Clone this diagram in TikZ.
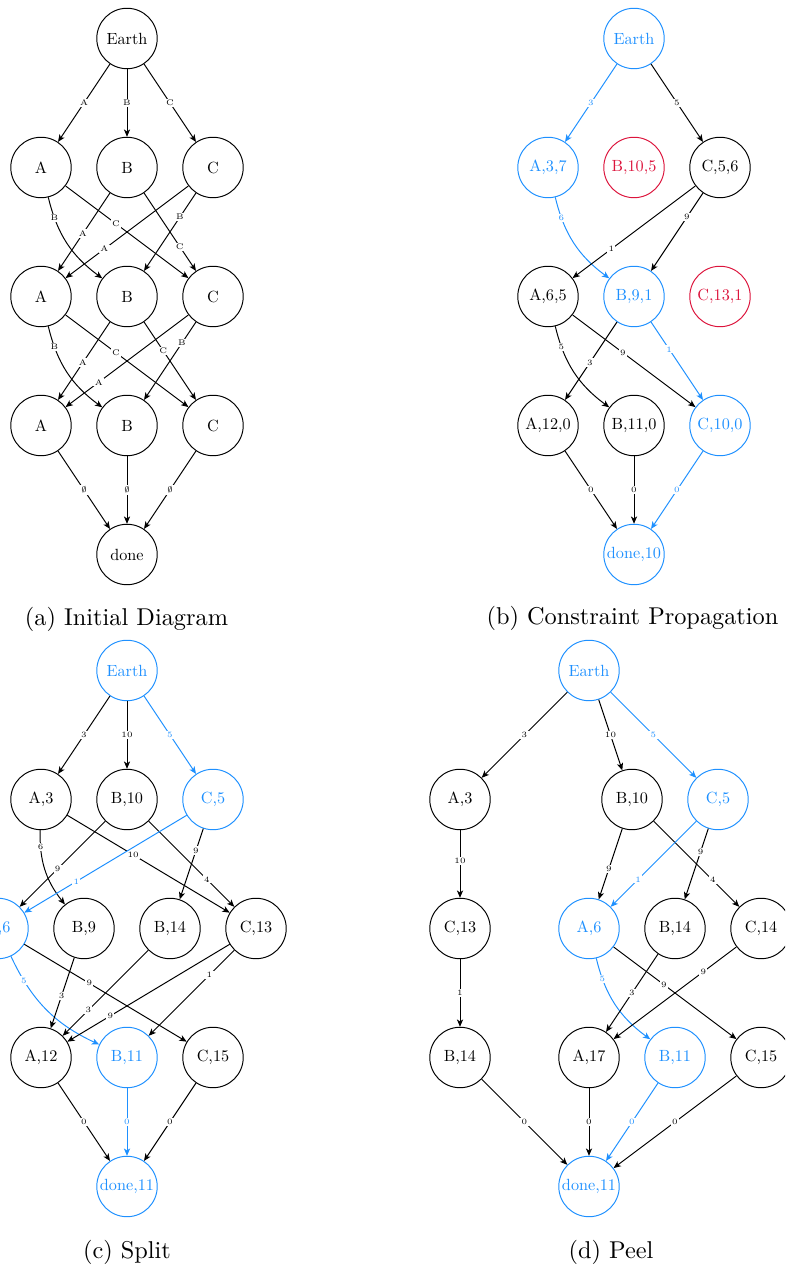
\documentclass[tikz,border=0pt]{standalone}
\usetikzlibrary{arrows.meta}
\definecolor{myblue}{RGB}{30,144,255}
\definecolor{mycrimson}{RGB}{220,20,60}
\begin{document}
\begin{tikzpicture}[x=0.617pt,y=0.617pt,
  st/.style={circle,draw,line width=0.6pt,minimum size=37.3pt,inner sep=0pt,font=\normalsize},
  hl/.style={st,draw=myblue,text=myblue},
  bad/.style={st,draw=mycrimson,text=mycrimson},
  ar/.style={line width=0.6pt,-{Stealth[length=4.5pt,width=3.8pt,inset=1.2pt]}},
  har/.style={ar,draw=myblue},
  lbl/.style={font=\tiny,fill=white,inner sep=0.8pt},
  hlbl/.style={lbl,text=myblue},
  captxt/.style={font=\normalsize,anchor=base,inner sep=0pt}]
\clip (0,0) rectangle (785,1268);
% ---------- (a) ----------
\node[st] (aE) at (127,1229.5) {Earth};
\node[st] (aA1) at (41,1100.5) {A};
\node[st] (aB1) at (127,1100.5) {B};
\node[st] (aC1) at (213,1100.5) {C};
\node[st] (aA2) at (41,971.5) {A};
\node[st] (aB2) at (127,971.5) {B};
\node[st] (aC2) at (213,971.5) {C};
\node[st] (aA3) at (41,842.5) {A};
\node[st] (aB3) at (127,842.5) {B};
\node[st] (aC3) at (213,842.5) {C};
\node[st] (aD) at (127,713.5) {done};
\draw[ar] (aE) -- node[lbl]{A} (aA1);
\draw[ar] (aE) -- node[lbl]{B} (aB1);
\draw[ar] (aE) -- node[lbl]{C} (aC1);
\draw[ar] (aA1) to[bend right=20] node[lbl,pos=0.2]{B} (aB2);
\draw[ar] (aA1) -- node[lbl,pos=0.41]{C} (aC2);
\draw[ar] (aB1) -- node[lbl,pos=0.52]{A} (aA2);
\draw[ar] (aB1) -- node[lbl,pos=0.69]{C} (aC2);
\draw[ar] (aC1) -- node[lbl,pos=0.685]{A} (aA2);
\draw[ar] (aC1) -- node[lbl,pos=0.31]{B} (aB2);
\draw[ar] (aA2) to[bend right=20] node[lbl,pos=0.2]{B} (aB3);
\draw[ar] (aA2) -- node[lbl,pos=0.41]{C} (aC3);
\draw[ar] (aB2) -- node[lbl,pos=0.52]{A} (aA3);
\draw[ar] (aB2) -- node[lbl,pos=0.37]{C} (aC3);
\draw[ar] (aC2) -- node[lbl,pos=0.73]{A} (aA3);
\draw[ar] (aC2) -- node[lbl,pos=0.27]{B} (aB3);
\draw[ar] (aA3) -- node[lbl]{$\emptyset$} (aD);
\draw[ar] (aB3) -- node[lbl]{$\emptyset$} (aD);
\draw[ar] (aC3) -- node[lbl]{$\emptyset$} (aD);
\node[captxt] (capa) at (126.5,642) {\scalebox{1.5}{(a) Initial Diagram}};
% ---------- (b) ----------
\node[hl] (bE) at (634,1229.5) {Earth};
\node[hl] (bA1) at (548,1100.5) {A,3,7};
\node[bad] (bB1) at (634,1100.5) {B,10,5};
\node[st] (bC1) at (720,1100.5) {C,5,6};
\node[st] (bA2) at (548,971.5) {A,6,5};
\node[hl] (bB2) at (634,971.5) {B,9,1};
\node[bad] (bC2) at (720,971.5) {C,13,1};
\node[st] (bA3) at (548,842.5) {A,12,0};
\node[st] (bB3) at (634,842.5) {B,11,0};
\node[hl] (bC3) at (720,842.5) {C,10,0};
\node[hl] (bD) at (634,713.5) {done,10};
\draw[har] (bE) -- node[hlbl]{3} (bA1);
\draw[ar] (bE) -- node[lbl]{5} (bC1);
\draw[har] (bA1) to[bend right=20] node[hlbl,pos=0.2]{6} (bB2);
\draw[ar] (bC1) -- node[lbl,pos=0.685]{1} (bA2);
\draw[ar] (bC1) -- node[lbl,pos=0.31]{9} (bB2);
\draw[ar] (bA2) to[bend right=20] node[lbl,pos=0.2]{5} (bB3);
\draw[ar] (bA2) -- node[lbl,pos=0.41]{9} (bC3);
\draw[ar] (bB2) -- node[lbl,pos=0.52]{3} (bA3);
\draw[har] (bB2) -- node[hlbl,pos=0.35]{1} (bC3);
\draw[ar] (bA3) -- node[lbl]{0} (bD);
\draw[ar] (bB3) -- node[lbl]{0} (bD);
\draw[har] (bC3) -- node[hlbl]{0} (bD);
\node[captxt] (capb) at (632.5,643) {\scalebox{1.5}{(b) Constraint Propagation}};
% ---------- (c) ----------
\node[hl] (cE) at (127,597.5) {Earth};
\node[st] (cA1) at (41,468.5) {A,3};
\node[st] (cB1) at (127,468.5) {B,10};
\node[hl] (cC1) at (213,468.5) {C,5};
\node[hl] (cA2) at (-2,339.5) {A,6};
\node[st] (cB2a) at (84,339.5) {B,9};
\node[st] (cB2b) at (170,339.5) {B,14};
\node[st] (cC2) at (256,339.5) {C,13};
\node[st] (cA3) at (41,210.5) {A,12};
\node[hl] (cB3) at (127,210.5) {B,11};
\node[st] (cC3) at (213,210.5) {C,15};
\node[hl] (cD) at (127,81.5) {done,11};
\draw[ar] (cE) -- node[lbl]{3} (cA1);
\draw[ar] (cE) -- node[lbl]{10} (cB1);
\draw[har] (cE) -- node[hlbl]{5} (cC1);
\draw[ar] (cA1) to[bend right=20] node[lbl,pos=0.2]{6} (cB2a);
\draw[ar] (cA1) -- node[lbl,pos=0.405]{10} (cC2);
\draw[ar] (cB1) -- node[lbl,pos=0.557]{9} (cA2);
\draw[ar] (cB1) -- node[lbl,pos=0.68]{4} (cC2);
\draw[har] (cC1) -- node[hlbl,pos=0.68]{1} (cA2);
\draw[ar] (cC1) -- node[lbl,pos=0.31]{9} (cB2b);
\draw[har] (cA2) to[bend right=20] node[hlbl,pos=0.2]{5} (cB3);
\draw[ar] (cA2) -- node[lbl,pos=0.4]{9} (cC3);
\draw[ar] (cB2a) -- node[lbl,pos=0.54]{3} (cA3);
\draw[ar] (cB2b) -- node[lbl,pos=0.70]{3} (cA3);
\draw[ar] (cC2) -- node[lbl,pos=0.735]{9} (cA3);
\draw[ar] (cC2) -- node[lbl,pos=0.29]{1} (cB3);
\draw[ar] (cA3) -- node[lbl]{0} (cD);
\draw[har] (cB3) -- node[hlbl]{0} (cD);
\draw[ar] (cC3) -- node[lbl]{0} (cD);
\node[captxt] (capc) at (127,10) {\scalebox{1.5}{(c) Split}};
% ---------- (d) ----------
\node[hl] (dE) at (589,597.5) {Earth};
\node[st] (dA1) at (460,468.5) {A,3};
\node[st] (dB1) at (632,468.5) {B,10};
\node[hl] (dC1) at (718,468.5) {C,5};
\node[st] (dC2a) at (460,339.5) {C,13};
\node[hl] (dA2) at (589,339.5) {A,6};
\node[st] (dB2) at (675,339.5) {B,14};
\node[st] (dC2) at (761,339.5) {C,14};
\node[st] (dB3a) at (460,210.5) {B,14};
\node[st] (dA3) at (589,210.5) {A,17};
\node[hl] (dB3) at (675,210.5) {B,11};
\node[st] (dC3) at (761,210.5) {C,15};
\node[hl] (dD) at (589,81.5) {done,11};
\draw[ar] (dE) -- node[lbl]{3} (dA1);
\draw[ar] (dE) -- node[lbl]{10} (dB1);
\draw[har] (dE) -- node[hlbl]{5} (dC1);
\draw[ar] (dA1) -- node[lbl,pos=0.45]{10} (dC2a);
\draw[ar] (dB1) -- node[lbl,pos=0.57]{9} (dA2);
\draw[ar] (dB1) -- node[lbl,pos=0.69]{4} (dC2);
\draw[har] (dC1) -- node[hlbl,pos=0.68]{1} (dA2);
\draw[ar] (dC1) -- node[lbl,pos=0.33]{9} (dB2);
\draw[ar] (dC2a) -- node[lbl]{1} (dB3a);
\draw[har] (dA2) to[bend right=20] node[hlbl,pos=0.2]{5} (dB3);
\draw[ar] (dA2) -- node[lbl,pos=0.41]{9} (dC3);
\draw[ar] (dB2) -- node[lbl,pos=0.5]{3} (dA3);
\draw[ar] (dC2) -- node[lbl,pos=0.27]{9} (dA3);
\draw[ar] (dB3a) -- node[lbl]{0} (dD);
\draw[ar] (dA3) -- node[lbl]{0} (dD);
\draw[har] (dB3) -- node[hlbl]{0} (dD);
\draw[ar] (dC3) -- node[lbl]{0} (dD);
\node[captxt] (capd) at (611,10) {\scalebox{1.5}{(d) Peel}};
\end{tikzpicture}
\end{document}
